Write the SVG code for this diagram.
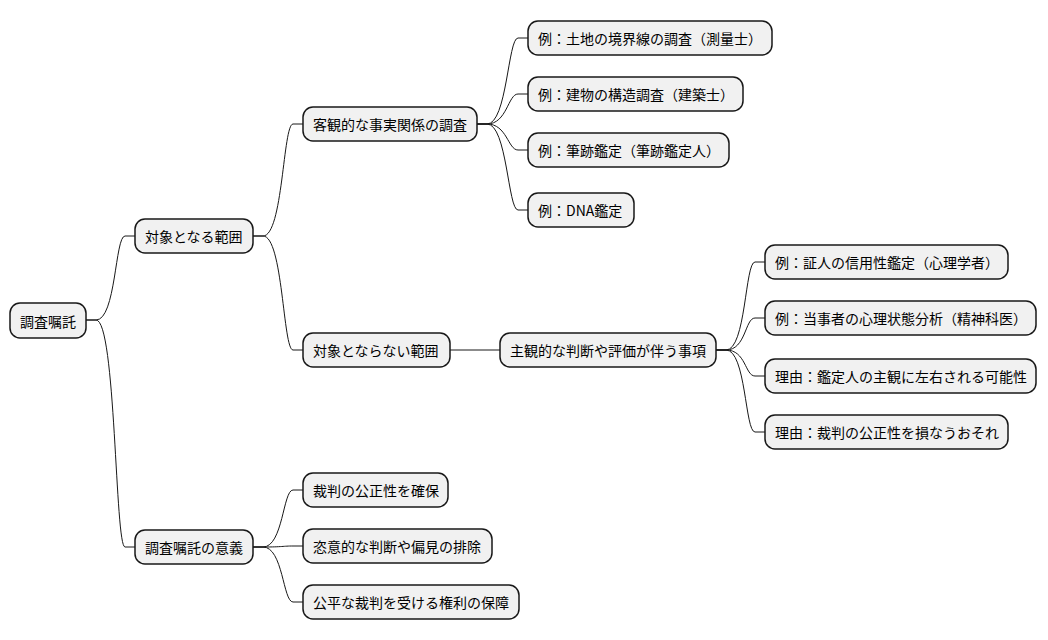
<svg xmlns="http://www.w3.org/2000/svg" width="1048" height="640" viewBox="0 0 1048 640">
<style>
rect{fill:#f1f1f1;stroke:#181818;stroke-width:1.5}
text{font-family:"Noto Sans CJK JP","Noto Sans",sans-serif;font-size:14px;fill:#000;dominant-baseline:central}
path{fill:none;stroke:#181818;stroke-width:1}
</style>
<rect width="1048" height="640" fill="#fff" style="fill:#fff;stroke:none"/>
<g id="connectors">
<path d="M86,320 h10 C116,320 115,236 125,236 h10"/>
<path d="M86,320 h10 C116,320 115,547 125,547 h10"/>
<path d="M253,236 h10 C283,236 283,124 293,124 h10"/>
<path d="M253,236 h10 C283,236 283,350 293,350 h10"/>
<path d="M477,124 h10 C507,124 508,38 518,38 h10"/>
<path d="M477,124 h10 C507,124 508,94 518,94 h10"/>
<path d="M477,124 h10 C507,124 508,150 518,150 h10"/>
<path d="M477,124 h10 C507,124 508,210 518,210 h10"/>
<path d="M450,350 H500"/>
<path d="M716,350 h10 C746,350 745,262 755,262 h10"/>
<path d="M716,350 h10 C746,350 745,318 755,318 h10"/>
<path d="M716,350 h10 C746,350 745,376 755,376 h10"/>
<path d="M716,350 h10 C746,350 745,432 755,432 h10"/>
<path d="M253,547 h10 C283,547 283,490 293,490 h10"/>
<path d="M253,547 h10 C283,547 283,546 293,546 h10"/>
<path d="M253,547 h10 C283,547 283,602 293,602 h10"/>
</g>
<g id="n0"><rect x="10" y="303" width="76" height="35" rx="10"/><text x="20" y="320.5">調査嘱託</text></g>
<g id="n1"><rect x="135" y="219" width="118" height="34" rx="10"/><text x="145" y="236">対象となる範囲</text></g>
<g id="n2"><rect x="135" y="530" width="118" height="34" rx="10"/><text x="145" y="547">調査嘱託の意義</text></g>
<g id="n3"><rect x="303" y="107" width="174" height="34" rx="10"/><text x="313" y="124">客観的な事実関係の調査</text></g>
<g id="n4"><rect x="303" y="333" width="147" height="34" rx="10"/><text x="313" y="350">対象とならない範囲</text></g>
<g id="n5"><rect x="528" y="21" width="244" height="34" rx="10"/><text x="538" y="38">例：土地の境界線の調査（測量士）</text></g>
<g id="n6"><rect x="528" y="77" width="215" height="34" rx="10"/><text x="538" y="94">例：建物の構造調査（建築士）</text></g>
<g id="n7"><rect x="528" y="133" width="201" height="34" rx="10"/><text x="538" y="150">例：筆跡鑑定（筆跡鑑定人）</text></g>
<g id="n8"><rect x="528" y="193" width="106" height="34" rx="10"/><text x="538" y="210">例：DNA鑑定</text></g>
<g id="n9"><rect x="500" y="333" width="216" height="34" rx="10"/><text x="510" y="350">主観的な判断や評価が伴う事項</text></g>
<g id="n10"><rect x="765" y="245" width="243" height="34" rx="10"/><text x="775" y="262">例：証人の信用性鑑定（心理学者）</text></g>
<g id="n11"><rect x="765" y="301" width="271" height="34" rx="10"/><text x="775" y="318">例：当事者の心理状態分析（精神科医）</text></g>
<g id="n12"><rect x="765" y="359" width="271" height="34" rx="10"/><text x="775" y="376">理由：鑑定人の主観に左右される可能性</text></g>
<g id="n13"><rect x="765" y="415" width="243" height="34" rx="10"/><text x="775" y="432">理由：裁判の公正性を損なうおそれ</text></g>
<g id="n14"><rect x="303" y="473" width="145" height="34" rx="10"/><text x="313" y="490">裁判の公正性を確保</text></g>
<g id="n15"><rect x="303" y="529" width="189" height="34" rx="10"/><text x="313" y="546">恣意的な判断や偏見の排除</text></g>
<g id="n16"><rect x="303" y="585" width="216" height="34" rx="10"/><text x="313" y="602">公平な裁判を受ける権利の保障</text></g>
</svg>
